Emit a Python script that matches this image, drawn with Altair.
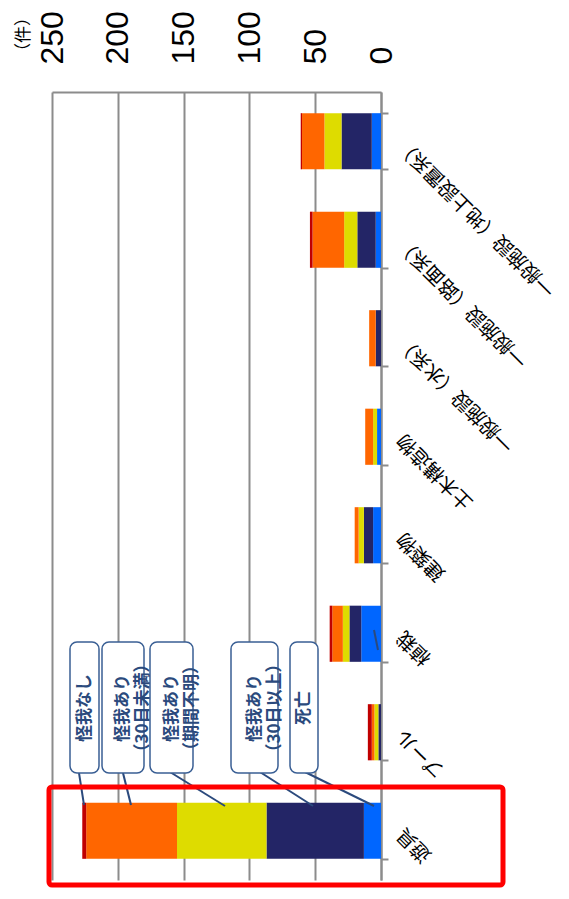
import altair as alt
import pandas as pd

# ---- data ----
categories = ["遊具", "プール", "植栽", "建築物", "土木構造物",
              "一般施設（水系）", "一般施設（路面系）", "一般施設（地上設置系）"]
series = ["死亡", "怪我あり（30日以上）", "怪我あり（期間不明）", "怪我あり（30日未満）", "怪我なし"]
death   = [13, 0, 15, 6, 3, 0, 4, 7]
over30  = [74, 2, 9, 7, 0, 4, 14, 23]
unknown = [68, 3, 5, 4, 3, 0, 10, 13]
under30 = [69, 2, 8, 3, 6, 5, 24, 17]
noinj   = [3, 3, 2, 0, 0, 0, 2, 1]
ticks = [0, 50, 100, 150, 200, 250]
unit_label = "（件）"
colors = ["#0066ff", "#232566", "#dedc00", "#ff6600", "#c00000"]

rows = []
for i, c in enumerate(categories):
    for j, vals in enumerate([death, over30, unknown, under30, noinj]):
        rows.append({"category": c, "series": series[j], "value": vals[i], "order": j})
df = pd.DataFrame(rows)

NUM = "Liberation Sans"
JP = "Noto Sans CJK JP"
GRID = "#8c8c8c"
NAVYTXT = "#2b4a7d"
BOXSTROKE = "#3a5f94"

bars = alt.Chart(df).mark_bar().encode(
    x=alt.X("value:Q", stack="zero",
            scale=alt.Scale(domain=[0, 250], reverse=True, nice=False),
            axis=alt.Axis(orient="top", values=ticks, labelAngle=270,
                          labelAlign="left", labelBaseline="middle",
                          labelFont=NUM, labelFontSize=32, labelColor="black",
                          labelPadding=28, labelFlush=False, labelOverlap=False,
                          ticks=False, domainColor=GRID, domainWidth=2,
                          grid=True, gridColor=GRID, gridWidth=2, title=None)),
    y=alt.Y("category:N", sort=list(reversed(categories)),
            scale=alt.Scale(paddingInner=0.43, paddingOuter=0.215),
            axis=alt.Axis(orient="right", labelAngle=225, labelAlign="right",
                          labelBaseline="middle", labelFont=JP, labelFontSize=19.5,
                          labelColor="black", labelPadding=12, labelLimit=500,
                          labelBound=False,
                          tickBand="extent", tickSize=7, tickWidth=2, tickColor=GRID,
                          domainColor=GRID, domainWidth=2, grid=False, title=None)),
    color=alt.Color("series:N", scale=alt.Scale(domain=series, range=colors), legend=None),
    order=alt.Order("order:Q"),
)

one = pd.DataFrame({"a": [0]})
layers = [bars]

# unit label "(件)"
layers.append(alt.Chart(one).mark_text(angle=270, font=JP, fontSize=17, color="black",
                                       align="left", baseline="middle").encode(
    x=alt.value(-28), y=alt.value(-32), text=alt.value(unit_label)))

# callout boxes (legend-like annotations), pixel positions in the plot area
callouts = [
    ("怪我なし", 18, 47),
    ("怪我あり\n（30日未満）", 50, 92),
    ("怪我あり\n（期間不明）", 98, 141),
    ("怪我あり\n（30日以上）", 179, 226),
    ("死亡", 238, 266),
]
leaders = [
    (27, 681, 32, 713),
    (71, 681, 79, 713),
    (118, 680, 173, 714),
    (208, 680, 261, 714),
    (253, 680, 322, 714),
    (322, 538, 326, 558),
]
for (x0, y0, x1, y1) in leaders:
    layers.append(alt.Chart(one).mark_rule(color=NAVYTXT, strokeWidth=2).encode(
        x=alt.value(x0), y=alt.value(y0), x2=alt.value(x1), y2=alt.value(y1)))
for (txt, bx0, bx1) in callouts:
    layers.append(alt.Chart(one).mark_rect(fill="white", stroke=BOXSTROKE, strokeWidth=1.5,
                                           cornerRadius=7).encode(
        x=alt.value(bx0), x2=alt.value(bx1), y=alt.value(550), y2=alt.value(681)))
    layers.append(alt.Chart(one).mark_text(angle=270, font=JP, fontSize=17, fontWeight="bold",
                                           color=NAVYTXT, lineBreak="\n", lineHeight=20,
                                           align="center", baseline="middle").encode(
        x=alt.value((bx0 + bx1) / 2), y=alt.value(616), text=alt.value(txt)))

# red highlight frame around 遊具
layers.append(alt.Chart(one).mark_rect(fillOpacity=0, stroke="#ff0000", strokeWidth=5,
                                       cornerRadius=3).encode(
    x=alt.value(-3), x2=alt.value(451), y=alt.value(695), y2=alt.value(793)))

chart = alt.layer(*layers).properties(
    width=329, height=788,
    autosize=alt.AutoSizeParams(type="none"),
    padding={"left": 44, "top": 84, "right": 180, "bottom": 11},
).configure_view(stroke=None)

chart.save("out.html", embed_options={"renderer": "svg", "actions": False})
